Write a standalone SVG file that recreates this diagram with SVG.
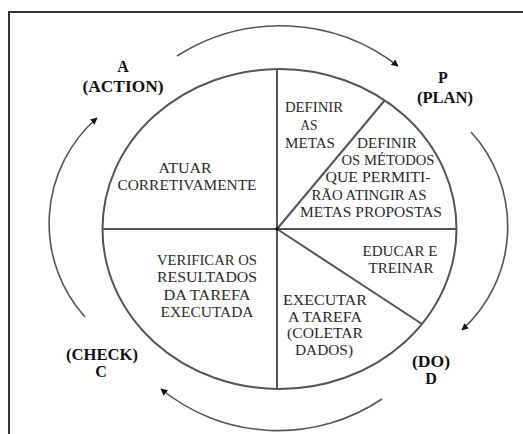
<svg xmlns="http://www.w3.org/2000/svg" width="523" height="434" viewBox="0 0 523 434">
<defs>
<style>
.frame{stroke:#333;stroke-width:2;fill:none}
.seg{stroke:#555;stroke-width:2;fill:none}
.cyc{stroke:#555;stroke-width:1.6;fill:none}
.in{font-size:14px;fill:#2a2a2a;text-anchor:middle}
.lb{font-size:16px;font-weight:bold;fill:#111;text-anchor:middle}
</style>
<marker id="ah" viewBox="0 0 10 10" refX="9" refY="5" markerWidth="7" markerHeight="7" markerUnits="userSpaceOnUse" orient="auto">
<path d="M0,0 L10,5 L0,10 Z" fill="#111"/>
</marker>
</defs>
<rect width="523" height="434" fill="#fff"/>
<path class="frame" d="M9,434 L9,12 L523,12"/>

<g id="wheel">
<ellipse class="seg" cx="279.5" cy="229" rx="177" ry="160"/>
<line class="seg" x1="277" y1="69" x2="277" y2="389"/>
<line class="seg" x1="102.5" y1="229" x2="456.5" y2="229"/>
<line class="seg" x1="277" y1="229" x2="385" y2="100"/>
<line class="seg" x1="277" y1="229" x2="422" y2="324"/>
<circle cx="277" cy="229" r="1.8" fill="#111"/>
</g>

<g id="connectors">
<path class="cyc" marker-end="url(#ah)" d="M177,56 A192,192 0 0 1 398,66"/>
<path class="cyc" marker-end="url(#ah)" d="M471,132 A140,140 0 0 1 462,330"/>
<path class="cyc" marker-end="url(#ah)" d="M382,399 A186,186 0 0 1 161,389"/>
<path class="cyc" marker-end="url(#ah)" d="M85,317 A140,140 0 0 1 97,118"/>
</g>

<g id="labels" font-family="Liberation Serif, Times New Roman, serif">
<g id="node-action">
<text class="lb" x="123" y="72">A</text>
<text class="lb" x="123" y="92" textLength="81" lengthAdjust="spacingAndGlyphs">(ACTION)</text>
</g>
<g id="node-plan">
<text class="lb" x="443" y="83">P</text>
<text class="lb" x="445" y="103" textLength="56" lengthAdjust="spacingAndGlyphs">(PLAN)</text>
</g>
<g id="node-check">
<text class="lb" x="102" y="360" textLength="72" lengthAdjust="spacingAndGlyphs">(CHECK)</text>
<text class="lb" x="101" y="377">C</text>
</g>
<g id="node-do">
<text class="lb" x="431" y="367" textLength="38" lengthAdjust="spacingAndGlyphs">(DO)</text>
<text class="lb" x="431" y="384">D</text>
</g>

<g id="node-definir-metas">
<text class="in" x="314" y="112" textLength="58" lengthAdjust="spacingAndGlyphs">DEFINIR</text>
<text class="in" x="309" y="130" textLength="17" lengthAdjust="spacingAndGlyphs">AS</text>
<text class="in" x="310" y="148" textLength="50" lengthAdjust="spacingAndGlyphs">METAS</text>
</g>
<g id="node-definir-metodos">
<text class="in" x="387" y="148" textLength="60" lengthAdjust="spacingAndGlyphs">DEFINIR</text>
<text class="in" x="388" y="165" textLength="93" lengthAdjust="spacingAndGlyphs">OS MÉTODOS</text>
<text class="in" x="378" y="182" textLength="105" lengthAdjust="spacingAndGlyphs">QUE PERMITI-</text>
<text class="in" x="369" y="200" textLength="115" lengthAdjust="spacingAndGlyphs">RÃO ATINGIR AS</text>
<text class="in" x="371" y="217" textLength="142" lengthAdjust="spacingAndGlyphs">METAS PROPOSTAS</text>
</g>
<g id="node-educar">
<text class="in" x="400" y="256" textLength="75" lengthAdjust="spacingAndGlyphs">EDUCAR E</text>
<text class="in" x="401" y="273" textLength="65" lengthAdjust="spacingAndGlyphs">TREINAR</text>
</g>
<g id="node-executar">
<text class="in" x="325" y="305" textLength="84" lengthAdjust="spacingAndGlyphs">EXECUTAR</text>
<text class="in" x="325" y="322" textLength="74" lengthAdjust="spacingAndGlyphs">A TAREFA</text>
<text class="in" x="325" y="338" textLength="76" lengthAdjust="spacingAndGlyphs">(COLETAR</text>
<text class="in" x="324" y="355" textLength="58" lengthAdjust="spacingAndGlyphs">DADOS)</text>
</g>
<g id="node-verificar">
<text class="in" x="207" y="265" textLength="100" lengthAdjust="spacingAndGlyphs">VERIFICAR OS</text>
<text class="in" x="207" y="282" textLength="100" lengthAdjust="spacingAndGlyphs">RESULTADOS</text>
<text class="in" x="207" y="300" textLength="87" lengthAdjust="spacingAndGlyphs">DA TAREFA</text>
<text class="in" x="207" y="317" textLength="93" lengthAdjust="spacingAndGlyphs">EXECUTADA</text>
</g>
<g id="node-atuar">
<text class="in" x="185" y="173" textLength="53" lengthAdjust="spacingAndGlyphs">ATUAR</text>
<text class="in" x="187" y="190" textLength="139" lengthAdjust="spacingAndGlyphs">CORRETIVAMENTE</text>
</g>
</g>
</svg>
